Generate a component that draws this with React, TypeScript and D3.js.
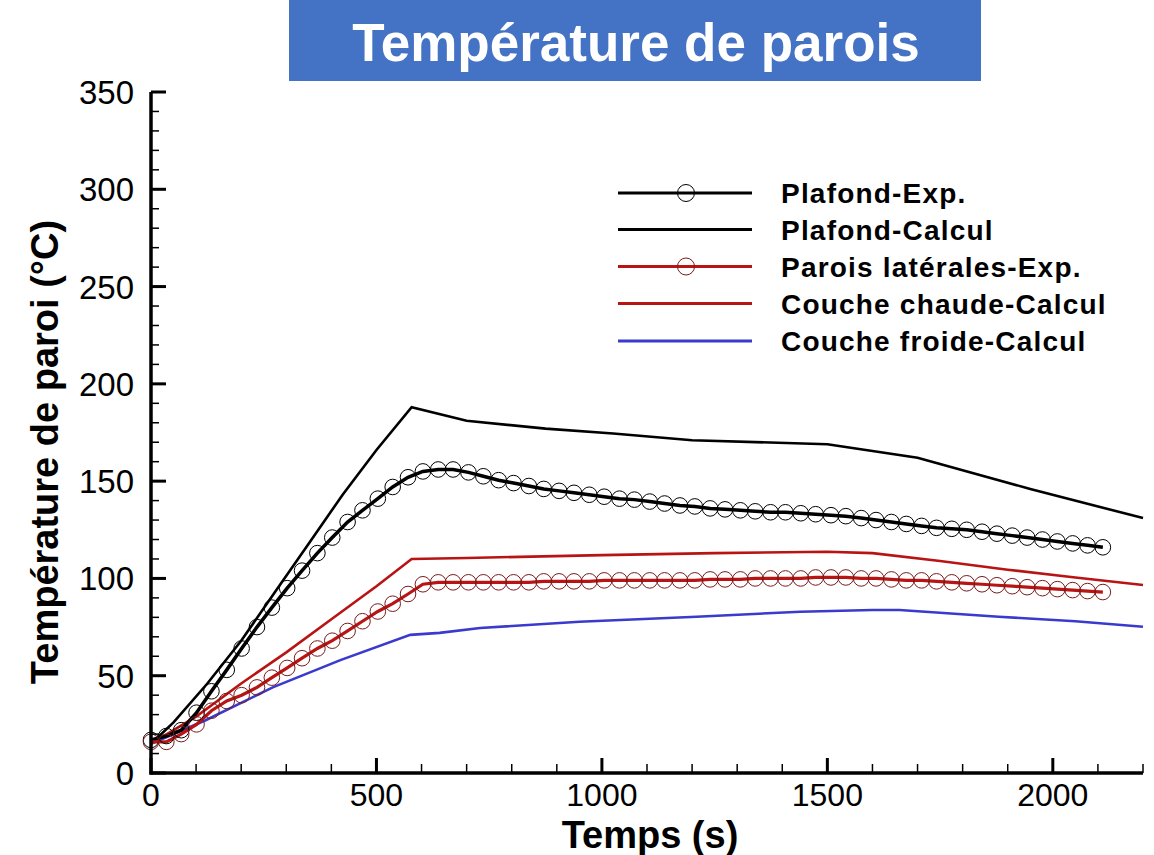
import * as d3 from 'd3';

// experimental sampling times (s)
const expTimes = [0, 34, 67, 101, 134, 168, 201, 235, 268, 302, 335, 369, 402, 436, 469, 503, 536, 570, 603, 637,
  670, 704, 737, 771, 804, 838, 871, 905, 938, 972, 1005, 1039, 1072, 1106, 1139, 1173, 1206, 1240, 1273, 1307,
  1340, 1374, 1407, 1441, 1474, 1508, 1541, 1575, 1608, 1642, 1675, 1709, 1742, 1776, 1809, 1843, 1876, 1910,
  1943, 1977, 2010, 2044, 2077, 2111];

const plafondExp = [17, 19, 22, 31, 42, 53, 64, 75, 85, 95, 104, 113, 121, 129, 135, 141, 147, 152, 155, 156,
  156, 154.5, 152.5, 150.5, 149, 147.5, 146, 145, 144, 143, 142, 141, 140.5, 139.5, 138.5, 137.5, 137, 136,
  135.5, 135, 134.5, 134, 134, 133.5, 133, 132.5, 132, 131, 130, 129, 128, 127, 126, 125.5, 125, 124, 123, 122,
  121, 120, 119, 118, 117, 116];

const paroisExp = [16, 16, 20, 25, 32, 37, 40, 44, 49, 54, 59, 64, 68, 73, 78, 83, 87, 92, 97, 98,
  98, 98, 98, 98, 98, 98, 98.5, 98.5, 98.5, 98.5, 99, 99, 99, 99, 99, 99, 99, 99.5, 99.5, 99.5,
  100, 100, 100, 100, 100.5, 100.5, 100.5, 100, 100, 99.5, 99, 99, 98.5, 98, 97.5, 97, 96.5, 96,
  95.5, 95, 94.5, 94, 93.5, 93];

const plafondCalcT = [0, 50, 125, 200, 275, 350, 425, 500, 578, 700, 875, 1025, 1200, 1500, 1700, 1950, 2200];
const plafondCalc = [15, 26, 46, 68, 93, 118, 143, 166, 188, 181, 177, 174.5, 171, 169, 162, 146, 131];

const chaudeT = [0, 50, 100, 200, 300, 400, 500, 578, 700, 1000, 1250, 1500, 1600, 1750, 1900, 2050, 2200];
const chaude = [15, 22, 29, 46, 62, 79, 96, 110, 110.5, 112, 113, 113.7, 113, 109, 104.5, 100.5, 96.6];

const froideT = [0, 120, 270, 420, 575, 640, 730, 950, 1210, 1440, 1600, 1660, 1880, 2050, 2200];
const froide = [15, 27, 44, 58, 71, 72, 74.5, 77.7, 80.3, 82.9, 83.8, 83.8, 80.3, 78, 75.2];

const xTicks = [0, 500, 1000, 1500, 2000];
const yTicks = [0, 50, 100, 150, 200, 250, 300, 350];

const legendLabels = ['Plafond-Exp.', 'Plafond-Calcul', 'Parois latérales-Exp.', 'Couche chaude-Calcul', 'Couche froide-Calcul'];

const BLACK = '#000000';
const RED = '#b81414';
const RED_MARK = '#7a1a1a';
const BLUE = '#3a3acc';

export default function App() {
  const W = 1154, H = 855;
  const x = d3.scaleLinear().domain([0, 2200]).range([151, 1143]);
  const y = d3.scaleLinear().domain([0, 350]).range([773, 92]);

  const line = d3.line<[number, number]>().x(d => x(d[0])).y(d => y(d[1]));
  const zip = (t: number[], v: number[]) => t.map((tt, i) => [tt, v[i]] as [number, number]);

  const minorX = d3.range(0, 2201, 100).filter(v => v % 500 !== 0);
  const minorY = d3.range(0, 351, 10).filter(v => v % 50 !== 0);

  const font = 'Arial, "Liberation Sans", sans-serif';

  const legend = [
    { color: BLACK, mark: BLACK, circle: true },
    { color: BLACK, mark: null, circle: false },
    { color: RED, mark: RED_MARK, circle: true },
    { color: RED, mark: null, circle: false },
    { color: BLUE, mark: null, circle: false },
  ];
  const legendY = [193, 229.5, 266.5, 303.5, 341];

  return (
    <svg width={W} height={H} style={{ position: 'absolute', left: 0, top: 0, background: '#fff' }} fontFamily={font}>
      {/* title box */}
      <rect x={289} y={0} width={692} height={81} fill="#4472c4" />
      <text x={636} y={61} textAnchor="middle" fill="#fff" fontWeight="bold" fontSize={53}>Température de parois</text>

      {/* series */}
      <path d={line(zip(plafondCalcT, plafondCalc)) || ''} fill="none" stroke={BLACK} strokeWidth={2.6} />
      <path d={line(zip(chaudeT, chaude)) || ''} fill="none" stroke={RED} strokeWidth={2.6} />
      <path d={line(zip(froideT, froide)) || ''} fill="none" stroke={BLUE} strokeWidth={2.6} />
      <path d={line(zip(expTimes, plafondExp)) || ''} fill="none" stroke={BLACK} strokeWidth={3.5} />
      <path d={line(zip(expTimes, paroisExp)) || ''} fill="none" stroke={RED} strokeWidth={3.2} />
      {expTimes.map((t, i) => (
        <circle key={'b' + i} cx={x(t)} cy={y(plafondExp[i])} r={7.8} fill="none" stroke={BLACK} strokeWidth={1} />
      ))}
      {expTimes.map((t, i) => (
        <circle key={'r' + i} cx={x(t)} cy={y(paroisExp[i])} r={7.8} fill="none" stroke={RED_MARK} strokeWidth={1} />
      ))}

      {/* axes */}
      <line x1={151} x2={151} y1={y(350)} y2={774.5} stroke="#000" strokeWidth={3.5} />
      <line x1={149.5} x2={x(2200)} y1={773} y2={773} stroke="#000" strokeWidth={3.5} />
      {yTicks.map(v => (
        <g key={'yt' + v}>
          <line x1={151} x2={166} y1={y(v)} y2={y(v)} stroke="#000" strokeWidth={3} />
          <text x={134} y={y(v) + 12} textAnchor="end" fontSize={33}>{v}</text>
        </g>
      ))}
      {minorY.map(v => (
        <line key={'ym' + v} x1={151} x2={159} y1={y(v)} y2={y(v)} stroke="#000" strokeWidth={1.5} />
      ))}
      {xTicks.map(v => (
        <g key={'xt' + v}>
          <line x1={x(v)} x2={x(v)} y1={773} y2={758} stroke="#000" strokeWidth={3} />
          <text x={x(v)} y={806} textAnchor="middle" fontSize={32}>{v}</text>
        </g>
      ))}
      {minorX.map(v => (
        <line key={'xm' + v} x1={x(v)} x2={x(v)} y1={773} y2={764} stroke="#000" strokeWidth={1.5} />
      ))}

      {/* axis titles */}
      <text x={650} y={848} textAnchor="middle" fontSize={38} fontWeight="bold">Temps (s)</text>
      <text transform="translate(58,452) rotate(-90)" textAnchor="middle" fontSize={38} fontWeight="bold">Température de paroi (°C)</text>

      {/* legend */}
      {legend.map((l, i) => (
        <g key={'lg' + i}>
          <line x1={618} x2={752} y1={legendY[i]} y2={legendY[i]} stroke={l.color} strokeWidth={3} />
          {l.circle && <circle cx={686} cy={legendY[i]} r={8.5} fill="none" stroke={l.mark || l.color} strokeWidth={1} />}
          <text x={781} y={legendY[i] + 10} fontSize={28} fontWeight="bold" letterSpacing={1.2}>{legendLabels[i]}</text>
        </g>
      ))}
    </svg>
  );
}
